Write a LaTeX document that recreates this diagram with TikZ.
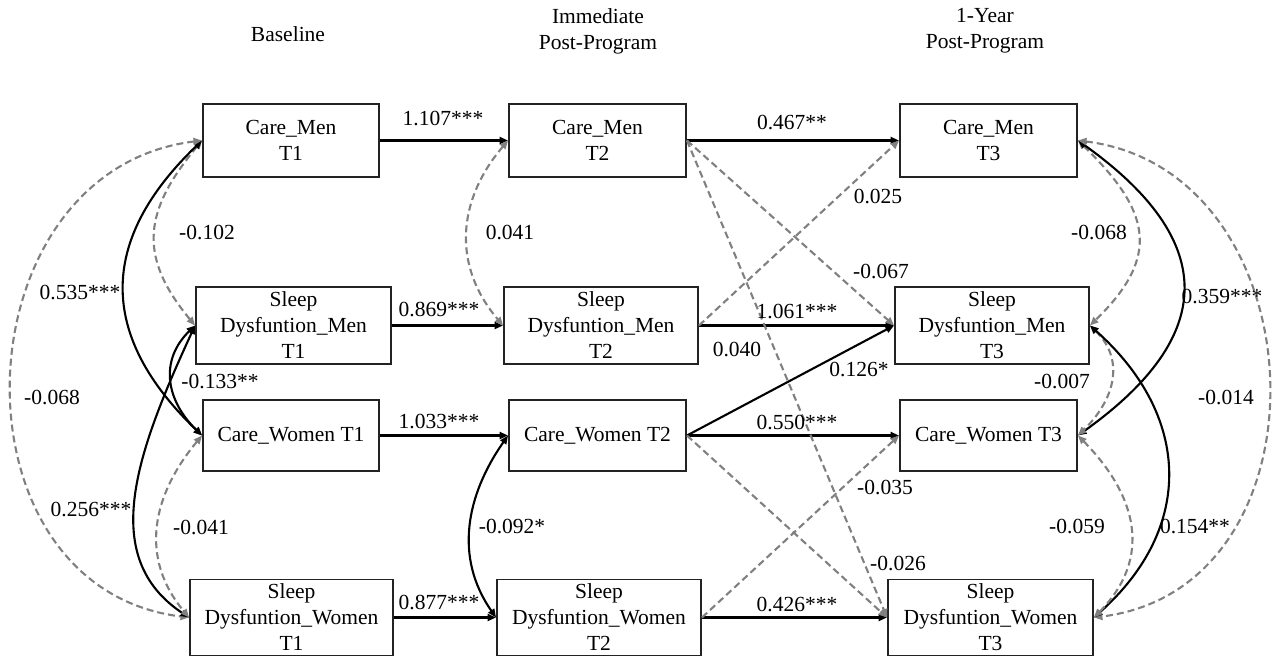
\documentclass[tikz,border=0pt]{standalone}
\usepackage{fontspec}
\setmainfont{Liberation Serif}
\usetikzlibrary{arrows.meta}
\definecolor{dgray}{RGB}{128,128,128}
\definecolor{boxline}{RGB}{35,35,35}
\newcommand{\myfs}{\fontsize{21.5}{26}\selectfont}
\begin{document}
\begin{tikzpicture}[x=1pt,y=-1pt,
  >={Triangle[length=8.5pt,width=7pt]},
  box/.style={draw=boxline, line width=1.9pt, align=center, inner sep=0pt, font=\myfs},
  lbl/.style={inner sep=0pt, font=\myfs},
  hdr/.style={inner sep=0pt, align=center, font=\myfs},
  sol/.style={->, draw=black, line width=2.1pt},
  dsh/.style={->, draw=dgray, line width=2.1pt, dash pattern=on 7pt off 4pt},
  cov/.style={<->, draw=black, line width=2.1pt},
  dcov/.style={<->, draw=dgray, line width=2.1pt, dash pattern=on 7pt off 4pt}]
\useasboundingbox (0,0) rectangle (1272,660);

% headers
\node[hdr] (h1) at (288,34) {Baseline};
\node[hdr] (h2) at (598,31) {Immediate\\Post-Program};
\node[hdr] (h3) at (985,31) {1-Year\\Post-Program};

% boxes T1
\node[box, minimum width=176pt, minimum height=73pt] (cm1) at (291,140.5) {Care\_Men\\T1};
\node[box, minimum width=195pt, minimum height=77pt] (sdm1) at (293.5,325.5) {Sleep\\Dysfuntion\_Men\\T1};
\node[box, minimum width=176pt, minimum height=71pt] (cw1) at (291,435.5) {Care\_Women T1};
\node[box, minimum width=203pt, minimum height=76pt] (sdw1) at (291.5,617.5) {Sleep\\Dysfuntion\_Women\\T1};
% boxes T2
\node[box, minimum width=177pt, minimum height=73pt] (cm2) at (597.5,140.5) {Care\_Men\\T2};
\node[box, minimum width=194pt, minimum height=77pt] (sdm2) at (601,325.5) {Sleep\\Dysfuntion\_Men\\T2};
\node[box, minimum width=177pt, minimum height=71pt] (cw2) at (597.5,435.5) {Care\_Women T2};
\node[box, minimum width=204pt, minimum height=76pt] (sdw2) at (599,617.5) {Sleep\\Dysfuntion\_Women\\T2};
% boxes T3
\node[box, minimum width=177pt, minimum height=73pt] (cm3) at (988.5,140.5) {Care\_Men\\T3};
\node[box, minimum width=194pt, minimum height=77pt] (sdm3) at (992,325.5) {Sleep\\Dysfuntion\_Men\\T3};
\node[box, minimum width=177pt, minimum height=71pt] (cw3) at (988.5,435.5) {Care\_Women T3};
\node[box, minimum width=205pt, minimum height=76pt] (sdw3) at (990.5,617.5) {Sleep\\Dysfuntion\_Women\\T3};

% autoregressive paths
\draw[sol] (cm1.east) -- (cm2.west);
\draw[sol] (sdm1.east) -- (sdm2.west);
\draw[sol] (cw1.east) -- (cw2.west);
\draw[sol] (sdw1.east) -- (sdw2.west);
\draw[sol] (cm2.east) -- (cm3.west);
\draw[sol] (sdm2.east) -- (sdm3.west);
\draw[sol] (cw2.east) -- (cw3.west);
\draw[sol] (sdw2.east) -- (sdw3.west);

% cross-lagged paths
\draw[sol] (cw2.east) -- (sdm3.west);
\draw[dsh] (cm2.east) -- (sdm3.west);
\draw[dsh] (sdm2.east) -- (cm3.west);
\draw[dsh] (cm2.east) -- (sdw3.west);
\draw[dsh] (cw2.east) -- (sdw3.west);
\draw[dsh] (sdw2.east) -- (cw3.west);

% covariances T1
\draw[dcov] (cm1.west) .. controls +(-58,70) and +(-58,-70) .. (sdm1.west);
\draw[cov] (cm1.west) .. controls +(-104,100) and +(-104,-100) .. (cw1.west);
\draw[dcov] (cm1.west) .. controls +(-245,30) and +(-245,-30) .. (sdw1.west);
\draw[cov] (sdm1.west) .. controls +(-36,35) and +(-36,-35) .. (cw1.west);
\draw[cov] (sdm1.west) .. controls +(-60,130) and +(-90,-60) .. (sdw1.west);
\draw[dcov] (cw1.west) .. controls +(-50,60) and +(-50,-60) .. (sdw1.west);
% covariances T2
\draw[dcov] (cm2.west) .. controls +(-51,60) and +(-51,-60) .. (sdm2.west);
\draw[cov] (cw2.west) .. controls +(-42,60) and +(-42,-60) .. (sdw2.west);
% covariances T3
\draw[dcov] (cm3.east) .. controls +(72,70) and +(72,-70) .. (sdm3.east);
\draw[cov] (cm3.east) .. controls +(140,100) and +(140,-100) .. (cw3.east);
\draw[dcov] (cm3.east) .. controls +(243,30) and +(243,-30) .. (sdw3.east);
\draw[dcov] (sdm3.east) .. controls +(36,35) and +(36,-35) .. (cw3.east);
\draw[cov] (sdm3.east) .. controls +(101,90) and +(101,-90) .. (sdw3.east);
\draw[dcov] (cw3.east) .. controls +(59,60) and +(59,-60) .. (sdw3.east);

% labels
\node[lbl] (l1) at (443,119) {1.107***};
\node[lbl] (l2) at (439,310) {0.869***};
\node[lbl] (l3) at (439,422) {1.033***};
\node[lbl] (l4) at (439,602) {0.877***};
\node[lbl] (l5) at (792,123) {0.467**};
\node[lbl] (l6) at (797,312) {1.061***};
\node[lbl] (l7) at (797,423) {0.550***};
\node[lbl] (l8) at (797,605) {0.426***};
\node[lbl] (l9) at (859,370) {0.126*};
\node[lbl] (l10) at (737,350) {0.040};
\node[lbl] (l11) at (881,272) {-0.067};
\node[lbl] (l12) at (878,197) {0.025};
\node[lbl] (l13) at (898,564) {-0.026};
\node[lbl] (l14) at (885,488) {-0.035};
\node[lbl] (l15) at (207,233) {-0.102};
\node[lbl] (l16) at (80,293) {0.535***};
\node[lbl] (l17) at (52,398) {-0.068};
\node[lbl] (l18) at (220,382) {-0.133**};
\node[lbl] (l19) at (91,510) {0.256***};
\node[lbl] (l20) at (201,528) {-0.041};
\node[lbl] (l21) at (510,233) {0.041};
\node[lbl] (l22) at (512,527) {-0.092*};
\node[lbl] (l23) at (1099,233) {-0.068};
\node[lbl] (l24) at (1222,297) {0.359***};
\node[lbl] (l25) at (1062,382) {-0.007};
\node[lbl] (l26) at (1226,398) {-0.014};
\node[lbl] (l27) at (1077,527) {-0.059};
\node[lbl] (l28) at (1195,527) {0.154**};
\end{tikzpicture}
\end{document}
